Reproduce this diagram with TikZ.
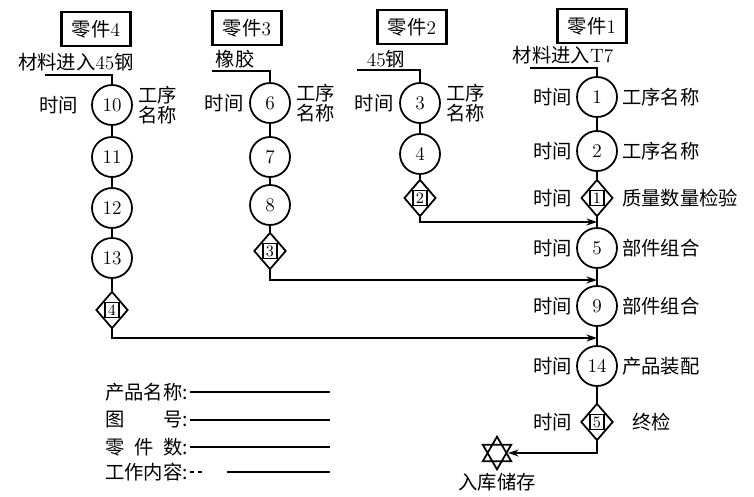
\documentclass[tikz,border=0pt]{standalone}
\usepackage{fontspec}
\newfontfamily\cjkfont{Noto Sans CJK SC}
\usetikzlibrary{shapes.geometric, arrows.meta, positioning, calc}

\newcommand\qbox[1]{{\setlength\fboxsep{0.8pt}\setlength\fboxrule{0.8pt}\fbox{\makebox[0.2cm]{#1}}}}

\begin{document}
\begin{tikzpicture}[
        x=0.02cm, y=-0.02cm,
        op/.style={circle, draw, line width=1pt, minimum size=0.8cm, inner sep=0pt, font=\fontsize{11}{12}\selectfont},
        insp/.style={diamond, draw, line width=1pt, minimum width=0.62cm, minimum height=0.74cm, inner sep=0pt, font=\fontsize{9}{10}\selectfont},
        part/.style={rectangle, draw, line width=1.2pt, minimum width=1.38cm, minimum height=0.68cm, font=\fontsize{11}{12}\selectfont},
        lbl/.style={font=\cjkfont\fontsize{11}{11.5}\selectfont, inner sep=1pt},
        flow/.style={line width=0.8pt},
        arr/.style={flow, -{Stealth[length=6pt, width=4pt]}},
        fill in/.style={line width=0.6pt}
    ]
        \useasboundingbox (0,0) rectangle (754,497);

        % Teile (Kopf)
        \node[part] (p4) at (96,29) {{\cjkfont 零件}4};
        \node[part] (p3) at (247,28) {{\cjkfont 零件}3};
        \node[part] (p2) at (412,27) {{\cjkfont 零件}2};
        \node[part] (p1) at (592,26) {{\cjkfont 零件}1};
        \node[lbl] (m4) at (76,62) {材料进入\textrm{45}钢};
        \node[lbl] (m3) at (235,59) {橡胶};
        \node[lbl] (m2) at (386,59) {\textrm{45}钢};
        \node[lbl] (m1) at (563,55) {材料进入\textrm{T7}};

        % Spalte 4
        \node[op] (c10) at (112,105) {10};
        \node[op] (c11) at (112,157) {11};
        \node[op] (c12) at (112,208) {12};
        \node[op] (c13) at (112,258) {13};
        \node[insp] (i4) at (112,310) {\qbox{4}};
        % Spalte 3
        \node[op] (c6) at (270,103) {6};
        \node[op] (c7) at (270,157) {7};
        \node[op] (c8) at (270,205) {8};
        \node[insp] (i3) at (270,251) {\qbox{3}};
        % Spalte 2
        \node[op] (c3) at (420,103) {3};
        \node[op] (c4) at (420,154) {4};
        \node[insp] (i2) at (420,198) {\qbox{2}};
        % Spalte 1 (Hauptlinie)
        \node[op] (c1) at (597,97) {1};
        \node[op] (c2) at (597,151) {2};
        \node[insp] (i1) at (597,198) {\qbox{1}};
        \node[op] (c5) at (597,248) {5};
        \node[op] (c9) at (597,306) {9};
        \node[op] (c14) at (597,366) {14};
        \node[insp] (i5) at (597,422) {\qbox{5}};

        % Lager
        \node[circle, minimum size=0.64cm, inner sep=0pt] (st) at (497,453) {};
        \draw[line width=1pt] (st.90) -- (st.210) -- (st.330) -- cycle
            (st.270) -- (st.30) -- (st.150) -- cycle;
        \node[lbl, below=1pt of st] (stl) {入库储存};

        % Beschriftungen
        \node[lbl, left=0.22cm of c10] (t10) {时间};
        \node[lbl, left=2pt of c6] (t6) {时间};
        \node[lbl, left=2pt of c3] (t3) {时间};
        \node[lbl, right=2pt of c10, align=left] (n10) {工序\\名称};
        \node[lbl, right=2pt of c6, align=left] (n6) {工序\\名称};
        \node[lbl, right=2pt of c3, align=left] (n3) {工序\\名称};
        \coordinate (tcol) at (574,0);
        \foreach \n in {c1,c2,i1,c5,c9,c14,i5}
            \node[lbl, anchor=east] at (tcol |- \n) {时间};
        \coordinate (ncol) at (620,0);
        \node[lbl, anchor=west] (n1) at (ncol |- c1) {工序名称};
        \node[lbl, anchor=west] (n2) at (ncol |- c2) {工序名称};
        \node[lbl, anchor=west] (ni1) at (ncol |- i1) {质量数量检验};
        \node[lbl, anchor=west] (n5) at (ncol |- c5) {部件组合};
        \node[lbl, anchor=west] (n9) at (ncol |- c9) {部件组合};
        \node[lbl, anchor=west] (n14) at (ncol |- c14) {产品装配};
        \node[lbl, anchor=west, xshift=0.2cm] (ni5) at (ncol |- i5) {终检};

        % Materialzufuhr
        \coordinate (in4) at (45,75);
        \coordinate (in3) at (212,71);
        \coordinate (in2) at (357,70);
        \coordinate (in1) at (530,68);
        \draw[flow] (in4) -| (c10.north);
        \draw[flow] (in3) -| (c6.north);
        \draw[flow] (in2) -| (c3.north);
        \draw[flow] (in1) -| (c1.north);

        % Ketten
        \draw[flow] (c10) -- (c11) -- (c12) -- (c13) -- (i4);
        \draw[flow] (c6) -- (c7) -- (c8) -- (i3);
        \draw[flow] (c3) -- (c4) -- (i2);
        \draw[flow] (c1) -- (c2) -- (i1) -- (c5) -- (c9) -- (c14) -- (i5);

        % Zusammenfuehrung
        \coordinate (j2) at (597,222);
        \coordinate (j3) at (597,280);
        \coordinate (j4) at (597,338);
        \draw[arr] (i2.south) |- (j2);
        \draw[arr] (i3.south) |- (j3);
        \draw[arr] (i4.south) |- (j4);
        \draw[arr, shorten >=-3pt] (i5.south) |- (st);

        % Legende
        \node[lbl, anchor=west] (lg1) at (103,392) {产品名称:};
        \node[lbl, anchor=west] (lg2) at (103,420) {\makebox[4em][s]{图\hfill 号}:};
        \node[lbl, anchor=west] (lg3) at (103,447) {\makebox[4em][s]{零\hfill 件\hfill 数}:};
        \node[lbl, anchor=west] (lg4) at (103,472) {工作内容:};
        \coordinate (lgend) at (330,0);
        \foreach \k in {lg1,lg2,lg3}
            \draw[fill in] (\k.east) -- (\k.east -| lgend);
        \draw[fill in, dash pattern=on 2.5pt off 2pt on 2.5pt off 14pt on 80pt] (lg4.east) -- (lg4.east -| lgend);
    \end{tikzpicture}
\end{document}
